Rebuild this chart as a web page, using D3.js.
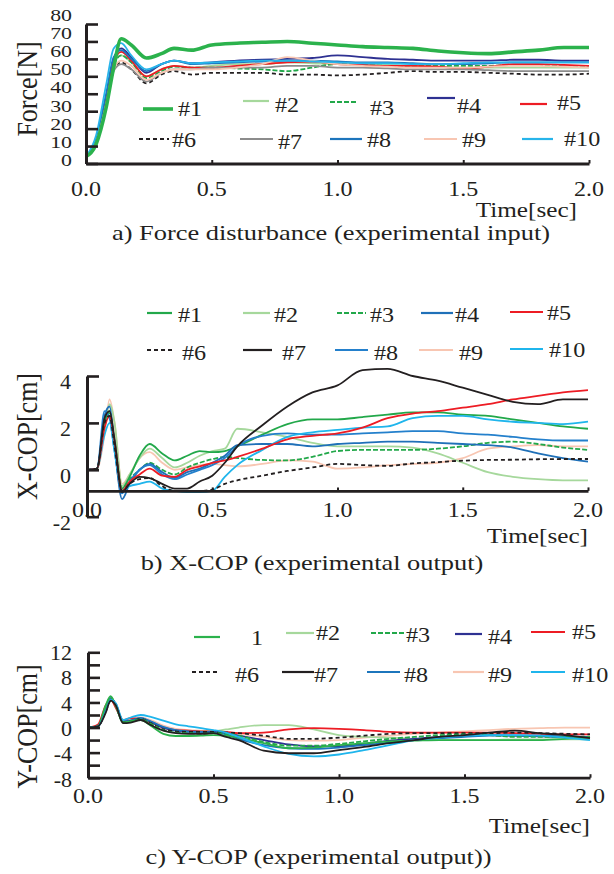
<!DOCTYPE html>
<html><head><meta charset="utf-8">
<script src="https://cdn.jsdelivr.net/npm/d3@7"></script>
<style>
body{margin:0;background:#fff;}
text{font-family:"Liberation Serif","Times New Roman",serif;fill:#231f20;}
</style></head>
<body>
<svg id="chart" width="614" height="874"></svg>
<script>
// ---------------- DATA ----------------
const seriesNames = ["#1","#2","#3","#4","#5","#6","#7","#8","#9","#10"];
const ycopLegendNames = ["1","#2","#3","#4","#5","#6","#7","#8","#9","#10"];
const xTicks = [0, 0.5, 1.0, 1.5, 2.0];
const forceYTicks = [0,10,20,30,40,50,60,70,80];
const xcopYTicks = [-2,0,2,4];
const ycopYTicks = [-8,-6,-4,-2,0,2,4,6,8,10,12];
const ycopYLabels = [-8,-4,0,4,8,12];

const forceTime = [0,0.04,0.08,0.11,0.14,0.18,0.24,0.3,0.35,0.42,0.5,0.6,0.7,0.8,0.9,1.0,1.1,1.2,1.3,1.4,1.5,1.6,1.7,1.8,1.9,2.0];
const forceValues = [
 [4,11,32,55,71.5,68,60.5,63,66,65,68,69,69.5,70,69,68,67,66.5,66,64.5,63.5,63,64,65,66.5,66.5],
 [4,13,38,57,62,58,50,54,56,55,56,57,57,58,57.5,57,57,56.5,56,55.5,55,55,55,55,55,55],
 [4,12,35,56,62,58,49,53,55.5,55,55,54.5,54,53,55,57,56.5,56,56,56,56,56,56.5,56.5,56,56],
 [4,13,38,60,66,61,52,57,59,57.5,58,59,59.5,60,60.5,62,61,60,59.5,59,59,59,59.5,59.5,59,59],
 [4,12,36,58,64,59,50,54,56,55,55,56,57,58,58.5,57,56.5,56,56,55.5,54.5,55.5,57,57,56.5,56],
 [4,12,34,54,58,54,46,51,53,51,52,52,52,51,51,50.5,51,52,53,52.5,52.5,52,51.5,51,51,51.5],
 [4,12,34,53,57,54,47,52,54,54,55,55,55,56,56,55,55,54.5,54,54,54,53.5,53,53,53,53],
 [4,14,40,61,65,60,53,57,59,57,57.5,58,58.5,59,59,58.5,58,58,57.5,57,57,57.5,58,58,58,58],
 [4,12,34,54,59,56,48,52,54,54,54,55,57,61,59,57,56,55.5,55,55,55,55.5,56,56,55.5,55],
 [4,16,45,66,69,62,54,57,59,57.5,58,58.5,59,59,58.5,58,57.5,57.5,57,57,57.5,58,58,58,58,58]
];

const copTime = [0,0.04,0.07,0.09,0.11,0.14,0.17,0.21,0.25,0.3,0.35,0.4,0.45,0.5,0.55,0.6,0.7,0.8,0.9,1.0,1.1,1.2,1.3,1.4,1.5,1.6,1.7,1.8,1.9,2.0];
const xcopValues = [
 [0,0.05,2.0,2.5,1.0,-0.8,-0.3,0.6,1.1,0.7,0.4,0.6,0.8,0.75,0.8,1.0,1.5,1.95,2.15,2.15,2.25,2.35,2.45,2.45,2.35,2.3,2.15,2.0,1.85,1.75],
 [0,0.05,1.8,2.8,2.0,-0.7,-0.2,0.5,0.9,0.5,0.1,0.3,0.6,0.8,0.9,1.75,1.6,1.4,1.15,1.0,1.0,1.0,0.95,0.7,0.3,-0.1,-0.3,-0.4,-0.45,-0.45],
 [0,0.05,1.9,2.4,1.2,-0.8,-0.4,0.0,0.3,0.0,-0.2,0.1,0.3,0.45,0.55,0.5,0.42,0.4,0.55,0.8,0.85,0.85,0.85,0.9,1.0,1.15,1.2,1.1,0.95,0.85],
 [0,0.05,2.3,2.7,1.0,-1.25,-0.6,0.0,0.25,-0.1,-0.35,-0.1,0.05,0.3,0.6,1.05,1.1,1.1,1.0,1.1,1.15,1.2,1.2,1.15,1.1,1.05,0.95,0.7,0.5,0.35],
 [0,0.05,1.8,2.3,1.2,-0.9,-0.5,-0.2,0.05,-0.25,-0.3,0.0,0.15,0.3,0.4,0.55,0.9,1.3,1.45,1.55,1.8,2.2,2.4,2.5,2.65,2.8,3.0,3.15,3.3,3.4],
 [0,0.05,2.0,2.3,1.0,-0.9,-0.6,-0.4,-0.35,-0.7,-0.9,-0.9,-0.9,-0.85,-0.6,-0.45,-0.25,-0.05,0.1,0.25,0.2,0.17,0.27,0.33,0.39,0.42,0.43,0.45,0.46,0.46],
 [0,0.05,2.2,2.5,1.3,-0.95,-0.6,-0.3,-0.35,-0.6,-0.8,-0.8,-0.5,-0.25,0.3,1.0,1.9,2.7,3.3,3.6,4.25,4.3,4.0,3.8,3.5,3.2,2.9,2.8,3.0,3.0],
 [0,0.05,2.5,2.2,0.8,-1.0,-0.5,0.0,0.2,-0.2,-0.4,-0.2,0.0,0.2,0.5,1.0,1.45,1.55,1.5,1.5,1.55,1.6,1.65,1.65,1.55,1.5,1.4,1.3,1.25,1.25],
 [0,0.05,1.5,3.0,2.0,-0.6,-0.2,0.5,0.75,0.3,0.0,0.1,0.2,0.25,0.2,0.15,0.25,0.4,0.35,0.05,0.1,0.2,0.25,0.3,0.5,0.9,1.0,1.05,1.0,1.0],
 [0,0.05,1.5,2.0,0.8,-0.9,-0.7,-0.6,-0.5,-0.8,-0.9,-0.95,-0.95,-0.9,-0.3,0.2,0.85,1.4,1.6,1.7,1.8,1.85,2.2,2.3,2.3,2.15,2.05,2.0,1.95,2.05]
];
const ycopValues = [
 [0,0.2,3.5,5.0,3.5,0.8,1.0,1.2,0.3,-1.0,-1.35,-1.35,-1.3,-1.2,-1.3,-1.6,-2.5,-3.3,-3.2,-2.8,-2.5,-2.2,-2.1,-2.0,-2.0,-2.0,-2.0,-2.0,-1.8,-1.6],
 [0,0.2,3.0,4.5,3.5,0.8,1.2,1.4,0.8,0.0,-0.5,-0.6,-0.6,-0.6,-0.3,0.0,0.4,0.4,-0.3,-1.2,-1.5,-1.6,-1.8,-2.0,-2.0,-2.0,-1.9,-1.9,-1.9,-1.9],
 [0,0.2,3.2,4.8,3.6,0.8,1.0,1.3,0.6,-0.4,-0.8,-0.9,-1.0,-0.9,-1.0,-1.3,-2.3,-2.9,-2.9,-2.6,-2.2,-1.8,-1.5,-1.2,-1.1,-1.2,-1.5,-1.5,-1.5,-1.5],
 [0,0.2,2.8,4.7,3.8,1.0,1.1,1.5,0.9,0.0,-0.5,-0.7,-0.7,-0.7,-0.9,-1.3,-2.0,-2.7,-3.0,-3.0,-2.6,-2.1,-1.8,-1.5,-1.3,-1.2,-1.3,-1.4,-1.5,-1.5],
 [0,0.5,3.5,4.5,3.2,1.2,1.5,1.3,0.8,0.0,-0.4,-0.5,-0.6,-0.6,-0.7,-0.9,-0.8,-0.3,-0.1,-0.2,-0.4,-0.7,-0.8,-0.8,-0.8,-0.8,-0.9,-1.0,-1.1,-1.1],
 [0,0.2,2.5,4.2,3.8,0.9,1.0,1.4,0.7,-0.3,-0.6,-0.7,-0.7,-0.7,-0.8,-0.9,-1.3,-1.8,-1.8,-1.6,-1.3,-1.0,-0.9,-0.9,-0.9,-0.9,-0.8,-0.9,-1.0,-1.1],
 [0,0.2,2.3,4.3,3.6,0.7,0.8,1.2,0.4,-0.5,-0.9,-1.0,-1.0,-0.9,-1.5,-2.0,-3.7,-4.1,-4.1,-3.6,-3.1,-2.5,-2.0,-1.5,-1.2,-0.8,-0.5,-0.9,-1.2,-1.7],
 [0,0.2,2.8,4.6,3.7,0.9,1.1,1.5,1.0,0.1,-0.4,-0.6,-0.7,-0.8,-1.1,-1.8,-2.8,-3.3,-3.4,-3.2,-2.8,-2.4,-2.0,-1.7,-1.5,-1.3,-1.3,-1.3,-1.4,-1.5],
 [0,0.2,3.0,4.6,3.8,1.0,1.3,1.6,1.2,0.3,-0.2,-0.4,-0.5,-0.6,-0.8,-1.0,-1.5,-2.0,-2.1,-2.0,-1.6,-1.3,-1.0,-0.8,-0.6,-0.4,-0.2,-0.1,0.0,0.0],
 [0,0.2,2.5,4.4,3.9,1.2,1.6,2.0,1.7,1.1,0.5,0.2,-0.1,-0.4,-0.8,-1.5,-3.0,-4.2,-4.6,-4.3,-3.6,-2.8,-2.0,-1.6,-1.3,-1.2,-1.2,-1.3,-1.6,-2.0]
];

// ---------------- STYLES / LAYOUT ----------------
const topColors = ["#2bb24c","#a6d89c","#22a84a","#2e3192","#ed1c24","#231f20","#8c8c8c","#1c75bc","#f8c6b2","#27b4ea"];
const midColors = ["#22a84a","#a6d89c","#22a84a","#1f70b8","#ed1c24","#231f20","#231f20","#2480cc","#f8c6b2","#1fb5ec"];
const botColors = ["#2bb24c","#a6d89c","#22a84a","#2e3192","#ed1c24","#231f20","#231f20","#1c75bc","#f8c6b2","#1fb5ec"];
const dashes = [null,null,"5,2",null,null,"4,3",null,null,null,null];

const topLegendLayout = [
 {x1:143,x2:173,y:109,tx:178,ty:116},{x1:243,x2:269,y:101,tx:275,ty:112},{x1:330,x2:357,y:102,tx:370,ty:115},
 {x1:427,x2:455,y:98,tx:457,ty:113},{x1:520,x2:547,y:104,tx:557,ty:110},
 {x1:139,x2:169,y:139,tx:172,ty:147},{x1:240,x2:273,y:139,tx:278,ty:149},{x1:330,x2:362,y:139,tx:367,ty:147},
 {x1:424,x2:457,y:139,tx:462,ty:147},{x1:522,x2:553,y:139,tx:564,ty:146}];
const midLegendLayout = [
 {x1:147,x2:172,y:313,tx:178,ty:322},{x1:243,x2:270,y:313,tx:274,ty:322},{x1:337,x2:366,y:313,tx:370,ty:322},
 {x1:421,x2:453,y:313,tx:455,ty:322},{x1:510,x2:543,y:312,tx:547,ty:320},
 {x1:147,x2:172,y:350,tx:182,ty:360},{x1:243,x2:272,y:350,tx:282,ty:360},{x1:335,x2:368,y:350,tx:374,ty:360},
 {x1:419,x2:453,y:350,tx:459,ty:360},{x1:510,x2:543,y:349,tx:549,ty:357}];
const botLegendLayout = [
 {x1:194,x2:220,y:637,tx:251,ty:645},{x1:286,x2:314,y:633,tx:316,ty:640},{x1:371,x2:404,y:633,tx:406,ty:642},
 {x1:455,x2:482,y:634,tx:488,ty:644},{x1:531,x2:565,y:632,tx:572,ty:639},
 {x1:192,x2:220,y:672,tx:235,ty:682},{x1:282,x2:314,y:672,tx:314,ty:682},{x1:367,x2:400,y:672,tx:404,ty:682},
 {x1:453,x2:484,y:672,tx:488,ty:682},{x1:531,x2:565,y:672,tx:572,ty:682}];

const panels = [
 {time:forceTime, values:forceValues, names:seriesNames, colors:topColors, legend:topLegendLayout,
  xr:[86,589], yd:[0,80], yr:[163.5,24], yTicks:forceYTicks, yLabels:forceYTicks, yLabelR:[160,15],
  yLabelX:72, yLabelSize:17.5, yLabelSX:1.25, xAxisAt:0, xLabelY:196, timeX:577, timeY:217, capX:331, capY:240,
  caption:"a) Force disturbance (experimental input)", title:"Force[N]", titleX:27, titleY:89,
  order:[1,2,3,4,5,6,7,8,9,0], thick:0},
 {time:copTime, values:xcopValues, names:seriesNames, colors:midColors, legend:midLegendLayout,
  xr:[87,588], yd:[-2,4], yr:[516.7,376], yTicks:xcopYTicks, yLabels:xcopYTicks, yLabelR:[523,382],
  yLabelX:71, yLabelSize:20, yLabelSX:1.1, xAxisAt:-0.9, xLabelY:517, timeX:588, timeY:543, capX:312, capY:570,
  caption:"b) X-COP (experimental output)", title:"X-COP[cm]", titleX:27, titleY:436.5,
  order:[8,1,0,2,3,7,9,4,5,6], thick:-1},
 {time:copTime, values:ycopValues, names:ycopLegendNames, colors:botColors, legend:botLegendLayout,
  xr:[88,590], yd:[-8,12], yr:[777.7,652.3], yTicks:ycopYTicks, yLabels:ycopYLabels, yLabelR:[780,653],
  yLabelX:72, yLabelSize:20, yLabelSX:1.1, xAxisAt:-8, xLabelY:803, timeX:590, timeY:833, capX:318.5, capY:864,
  caption:"c) Y-COP (experimental output))", title:"Y-COP[cm]", titleX:27, titleY:726.5,
  order:[8,1,4,3,7,5,2,0,9,6], thick:-1}
];

const svg = d3.select("#chart");
svg.append("rect").attr("width",614).attr("height",874).attr("fill","#fff");

function txt(g, x, y, s, size, anchor, sx){
  g.append("text").attr("transform",`translate(${x},${y}) scale(${sx},1)`)
   .attr("text-anchor",anchor).attr("font-size",size).text(s);
}

panels.forEach(p => {
  const g = svg.append("g");
  const x = d3.scaleLinear().domain([0,2]).range(p.xr);
  const y = d3.scaleLinear().domain(p.yd).range(p.yr);
  const yl = d3.scaleLinear().domain(p.yd).range(p.yLabelR);

  // series
  const line = d3.line().x((d,i)=>x(p.time[i])).y(d=>y(d)).curve(d3.curveMonotoneX);
  p.order.forEach(k => {
    g.append("path").attr("d", line(p.values[k]))
      .attr("fill","none").attr("stroke", p.colors[k])
      .attr("stroke-width", k===p.thick ? 3.6 : 1.8)
      .attr("stroke-dasharray", dashes[k]).attr("stroke-linejoin","round");
  });

  // y axis
  const ya = g.append("g").attr("transform",`translate(${p.xr[0]},0)`)
    .call(d3.axisLeft(y).tickValues(p.yTicks).tickSizeInner(-12).tickSizeOuter(0).tickFormat(""));
  ya.selectAll("path").attr("stroke","#231f20").attr("stroke-width",3);
  ya.selectAll("line").attr("stroke","#231f20").attr("stroke-width",2.6);

  // x axis
  const xa = g.append("g").attr("transform",`translate(0,${y(p.xAxisAt)})`)
    .call(d3.axisBottom(x).tickValues(xTicks).tickSizeInner(-3.5).tickSizeOuter(0).tickFormat(""));
  xa.selectAll("path").attr("stroke","#231f20").attr("stroke-width",2.8);
  xa.selectAll("line").attr("stroke","#231f20").attr("stroke-width",2);

  // y labels
  p.yLabels.forEach(v => txt(g, p.yLabelX, yl(v)+p.yLabelSize*0.34, String(v), p.yLabelSize, "end", p.yLabelSX));
  // x labels
  xTicks.forEach(v => txt(g, x(v), p.xLabelY, v.toFixed(1), 20, "middle", 1.2));
  // time label
  txt(g, p.timeX, p.timeY, "Time[sec]", 21, "end", 1.2);
  // caption
  txt(g, p.capX, p.capY, p.caption, 22, "middle", 1.2);
  // title
  g.append("text").attr("transform",`translate(${p.titleX},${p.titleY}) scale(1.15,1) rotate(-90)`)
    .attr("text-anchor","middle").attr("dy","0.35em").attr("font-size",26).text(p.title);

  // legend
  p.legend.forEach((L,k) => {
    g.append("line").attr("x1",L.x1).attr("x2",L.x2).attr("y1",L.y).attr("y2",L.y)
      .attr("stroke",p.colors[k]).attr("stroke-width", k===p.thick ? 3.6 : 2.2)
      .attr("stroke-dasharray", dashes[k]);
    txt(g, L.tx, L.ty, p.names[k], 21, "start", 1.15);
  });
});
</script>
</body></html>
